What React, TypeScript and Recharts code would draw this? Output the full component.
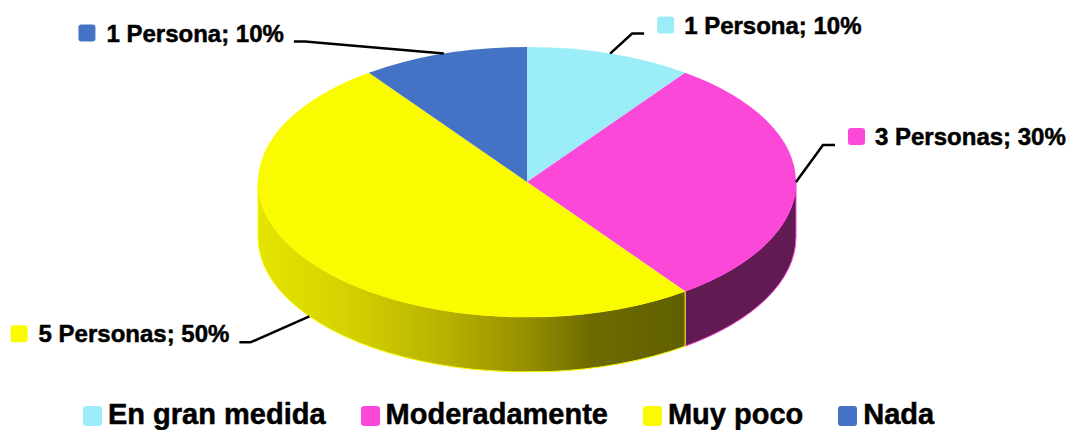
import React from 'react';
import { PieChart, Pie, Legend } from 'recharts';

const categories = ['En gran medida', 'Moderadamente', 'Muy poco', 'Nada'];
const personas = [1, 3, 5, 1];
const percents = [10, 30, 50, 10];

const COLORS = ['#9BEEF8', '#FC48D8', '#FAFA00', '#4472C4'];
const WALL = ['#5d9aa1', '#621B52', 'url(#wallYellow)', '#2c4c85'];

const data = categories.map((name, i) => ({ name, value: personas[i], pct: percents[i] }));

const FONT = '"Liberation Sans", Arial, Helvetica, sans-serif';
const RAD = Math.PI / 180;
const TILT = 0.502; // vertical squash of the top ellipse
const DEPTH = 55; // thickness of the slab
// elbow of each leader line, relative to where it touches the pie
const LABEL_ELBOW = [
  [22, -20],
  [27, -37],
  [-59, 26],
  [-139, -12],
];
const LABEL_SIZE = 24;
const LABEL_FONT = `bold ${LABEL_SIZE}px ${FONT}`;

let ctx: CanvasRenderingContext2D | null = null;
const textWidth = (s: string) => {
  if (!ctx) ctx = document.createElement('canvas').getContext('2d');
  if (!ctx) return s.length * 12;
  ctx.font = LABEL_FONT;
  return ctx.measureText(s).width;
};

// draws the 3D slab slice (wall + top) and its label from the angles recharts computed
const renderSlice = (props: any) => {
  const { cx, cy, outerRadius: r, startAngle, endAngle, midAngle, index } = props;
  const ry = r * TILT;
  const pt = (a: number, dy = 0) => [cx + r * Math.cos(a * RAD), cy - ry * Math.sin(a * RAD) + dy];

  // walls: only the front half (lower part of the ellipse) is visible
  const walls: string[] = [];
  [-1, 0, 1].forEach(k => {
    const lo = Math.max(endAngle, -180 + 360 * k);
    const hi = Math.min(startAngle, 360 * k);
    if (hi - lo > 0.01) {
      const [ax, ay] = pt(hi);
      const [bx, by] = pt(lo);
      walls.push(
        `M${ax},${ay} A${r},${ry} 0 0 1 ${bx},${by} L${bx},${by + DEPTH} A${r},${ry} 0 0 0 ${ax},${ay + DEPTH} Z`
      );
    }
  });

  const [sx, sy] = pt(startAngle);
  const [ex, ey] = pt(endAngle);
  const large = Math.abs(startAngle - endAngle) > 180 ? 1 : 0;
  const top = `M${cx},${cy} L${sx},${sy} A${r},${ry} 0 ${large} 1 ${ex},${ey} Z`;

  // label
  const front = Math.sin(midAngle * RAD) < 0;
  const [axp, ayp] = pt(midAngle, front ? DEPTH : 0);
  const [dx, dy] = LABEL_ELBOW[index];
  const elx = axp + dx;
  const ely = ayp + dy;
  const right = dx > 0;
  const tail = right ? elx + 12 : elx - 11;
  const v = props.value;
  const txt = `${v} ${v === 1 ? 'Persona' : 'Personas'}; ${props.payload?.pct ?? percents[index]}%`;
  const w = textWidth(txt);
  let sqX: number;
  let txtX: number;
  if (right) {
    sqX = elx + 25;
    txtX = sqX + 27;
  } else {
    txtX = elx - 21 - w;
    sqX = txtX - 28;
  }

  return (
    <g key={`slice-${index}`}>
      {index === 2 && (
        <defs>
          <linearGradient id="wallYellow" gradientUnits="userSpaceOnUse" x1={cx - r} y1={0} x2={cx + r} y2={0}>
            <stop offset="0" stopColor="#E4E400" />
            <stop offset="0.15" stopColor="#D6D400" />
            <stop offset="0.36" stopColor="#B5AF00" />
            <stop offset="0.5" stopColor="#958F00" />
            <stop offset="0.62" stopColor="#6E6B00" />
            <stop offset="0.8" stopColor="#5F5F00" />
            <stop offset="1" stopColor="#5F5F00" />
          </linearGradient>
        </defs>
      )}
      {walls.map((d, i) => (
        <path key={i} d={d} fill={WALL[index]} stroke={COLORS[index]} strokeWidth={1} />
      ))}
      <path d={top} fill={COLORS[index]} stroke="none" />
      <polyline
        points={`${axp},${ayp} ${elx},${ely} ${tail},${ely}`}
        fill="none"
        stroke="#000"
        strokeWidth={2.5}
      />
      <rect x={sqX} y={ely - 17} width={17} height={17} rx={3} fill={COLORS[index]} />
      <text
        x={txtX}
        y={ely}
        fontFamily={FONT}
        fontWeight="bold"
        fontSize={LABEL_SIZE}
        fill="#000"
        stroke="#000"
        strokeWidth={0.5}
      >
        {txt}
      </text>
    </g>
  );
};

const LegendContent = (props: any) => {
  const items = props.payload && props.payload.length ? props.payload.map((p: any) => p.value) : categories;
  return (
    <div
      style={{
        display: 'flex',
        fontFamily: FONT,
        fontWeight: 'bold',
        fontSize: 29,
        lineHeight: '33px',
        color: '#000',
        whiteSpace: 'nowrap',
        WebkitTextStroke: '0.5px #000',
      }}
    >
      {items.map((c: string, i: number) => (
        <div key={c} style={{ display: 'flex', alignItems: 'flex-start', marginRight: i < items.length - 1 ? 35 : 0 }}>
          <span
            style={{
              display: 'inline-block',
              width: 19,
              height: 20,
              marginTop: 8,
              marginRight: 6,
              background: COLORS[i],
              borderRadius: 3,
              WebkitTextStroke: '0',
            }}
          />
          <span>{c}</span>
        </div>
      ))}
    </div>
  );
};

export default function App() {
  return (
    <div style={{ width: 1073, height: 430, background: '#fff', fontFamily: FONT }}>
      <style>{'body{margin:0;background:#fff;}'}</style>
      <PieChart width={1073} height={430} margin={{ top: 0, right: 0, bottom: 0, left: 0 }}>
        <Pie
          data={data}
          dataKey="value"
          nameKey="name"
          cx={527}
          cy={182}
          outerRadius={269}
          startAngle={90}
          endAngle={-270}
          fill="transparent"
          stroke="none"
          label={renderSlice}
          labelLine={false}
          isAnimationActive={false}
        />
        <Legend
          content={<LegendContent />}
          wrapperStyle={{ position: 'absolute', left: 83, top: 398, bottom: 'auto', width: 'auto' }}
        />
      </PieChart>
    </div>
  );
}
